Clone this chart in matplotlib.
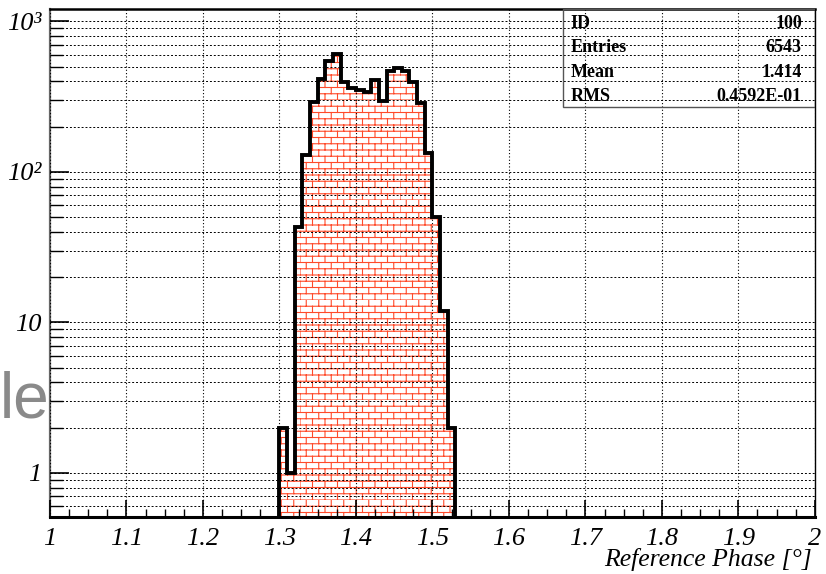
import warnings
import matplotlib
matplotlib.use("Agg")
import matplotlib.pyplot as plt
import numpy as np
from matplotlib import hatch as mhatch
from matplotlib.path import Path
from matplotlib.ticker import FixedLocator, FixedFormatter, NullFormatter

warnings.filterwarnings("ignore")

# histogram contents, bins of 0.01 starting at 1.30
bin_start = 1.30
bin_width = 0.01
counts = [2, 1, 43, 130, 293, 413, 549, 608, 398, 360, 352, 342, 409, 296,
          469, 489, 469, 398, 288, 134, 50, 12, 2]

stats_names = ["ID", "Entries", "Mean", "RMS"]
stats_values = ["100", "6543", "1.414", "0.4592E-01"]

x_ticks = [1, 1.1, 1.2, 1.3, 1.4, 1.5, 1.6, 1.7, 1.8, 1.9, 2]
x_ticklabels = ["1", "1.1", "1.2", "1.3", "1.4", "1.5", "1.6", "1.7", "1.8", "1.9", "2"]
y_ticks = [1, 10, 100, 1000]
y_ticklabels = ["1", "10", "10\u00b2", "10\u00b3"]


# brick hatch like the ROOT fill style
class BrickHatch(mhatch.HatchPatternBase):
    def __init__(self, hatch, density):
        n = hatch.count('b')
        self.rows = 16 * n
        self.cols = 8 * n
        self.num_vertices = (self.rows * 2 + self.rows * self.cols * 2) if n else 0

    def set_vertices_and_codes(self, vertices, codes):
        k = 0
        for i in range(self.rows):
            y0 = i / self.rows
            y1 = (i + 1) / self.rows
            vertices[k] = (0, y0)
            vertices[k + 1] = (1, y0)
            codes[k] = Path.MOVETO
            codes[k + 1] = Path.LINETO
            k += 2
            off = 0.5 * (i % 2)
            for j in range(self.cols):
                xv = (j + off) / self.cols
                vertices[k] = (xv, y0)
                vertices[k + 1] = (xv, y1)
                codes[k] = Path.MOVETO
                codes[k + 1] = Path.LINETO
                k += 2


mhatch._hatch_types.append(BrickHatch)

plt.rcParams['font.family'] = ['Liberation Serif', 'DejaVu Serif']
plt.rcParams['hatch.linewidth'] = 0.8

edges = bin_start + bin_width * np.arange(len(counts) + 1)

fig = plt.figure(figsize=(8.26, 5.74), dpi=100)
ax = fig.add_axes([0.0605, 0.0993, 0.926, 0.885])

ax.stairs(counts, edges, fill=True, baseline=0.1, facecolor='white',
          edgecolor='#ff4a2a', linewidth=0, hatch='b', zorder=1)
ax.stairs(counts, edges, baseline=0.1, color='black', linewidth=2.8, zorder=3)

ax.set_yscale('log')
ax.set_xlim(1, 2)
ax.set_ylim(0.51, 1210)

ax.xaxis.set_major_locator(FixedLocator(x_ticks))
ax.xaxis.set_major_formatter(FixedFormatter(x_ticklabels))
ax.xaxis.set_minor_locator(FixedLocator(np.arange(1, 2.0001, 0.025)))
ax.yaxis.set_major_locator(FixedLocator(y_ticks))
ax.yaxis.set_major_formatter(FixedFormatter(y_ticklabels))
minor_y = [m * 10.0 ** e for e in range(-1, 4) for m in range(2, 10)]
ax.yaxis.set_minor_locator(FixedLocator(minor_y))
ax.yaxis.set_minor_formatter(NullFormatter())

ax.set_axisbelow(False)
ax.grid(True, which='major', axis='x', color='black', linestyle=(0, (1, 2)), linewidth=0.8)
ax.grid(True, which='both', axis='y', color='black', linestyle=(0, (2, 2)), linewidth=0.7)

ax.tick_params(axis='both', which='both', direction='in', top=False, right=False)
ax.tick_params(axis='y', which='major', length=14, width=1.2, pad=6)
ax.tick_params(axis='y', which='minor', length=9, width=1)
ax.tick_params(axis='x', which='major', length=12, width=1.2, pad=8)
ax.tick_params(axis='x', which='minor', length=6, width=1)
for lab in ax.get_xticklabels() + ax.get_yticklabels():
    lab.set_fontstyle('italic')
    lab.set_fontsize(19)

ax.spines['left'].set_color('#666666')
ax.spines['left'].set_linewidth(1.6)
ax.spines['bottom'].set_linewidth(2.2)
ax.spines['top'].set_linewidth(1.8)
ax.spines['right'].set_linewidth(1.0)

ax.set_xlabel('Reference Phase [\u00b0]', fontsize=18.5, fontstyle='italic', ha='right')
ax.xaxis.set_label_coords(0.996, -0.062)

# statistics box
box_l, box_b = 0.671, 0.807
ax.add_patch(plt.Rectangle((box_l, box_b), 1 - box_l, 1 - box_b, transform=ax.transAxes,
                           fill=False, edgecolor='#555555', linewidth=1.0, zorder=4))
for i, (name, val) in enumerate(zip(stats_names, stats_values)):
    yy = 1 - (i + 0.5) * (1 - box_b) / 4 - 0.004
    ax.text(box_l + 0.01, yy, name, transform=ax.transAxes, fontsize=13,
            fontweight='bold', va='center', ha='left', zorder=5)
    ax.text(0.983, yy, val, transform=ax.transAxes, fontsize=13,
            fontweight='bold', va='center', ha='right', zorder=5)

fig.text(0.0, 0.302, 'le', fontsize=46, color='#8a8a8a',
         family=['Liberation Sans', 'DejaVu Sans'], va='center', ha='left')

fig.savefig('out.png', dpi=100)
